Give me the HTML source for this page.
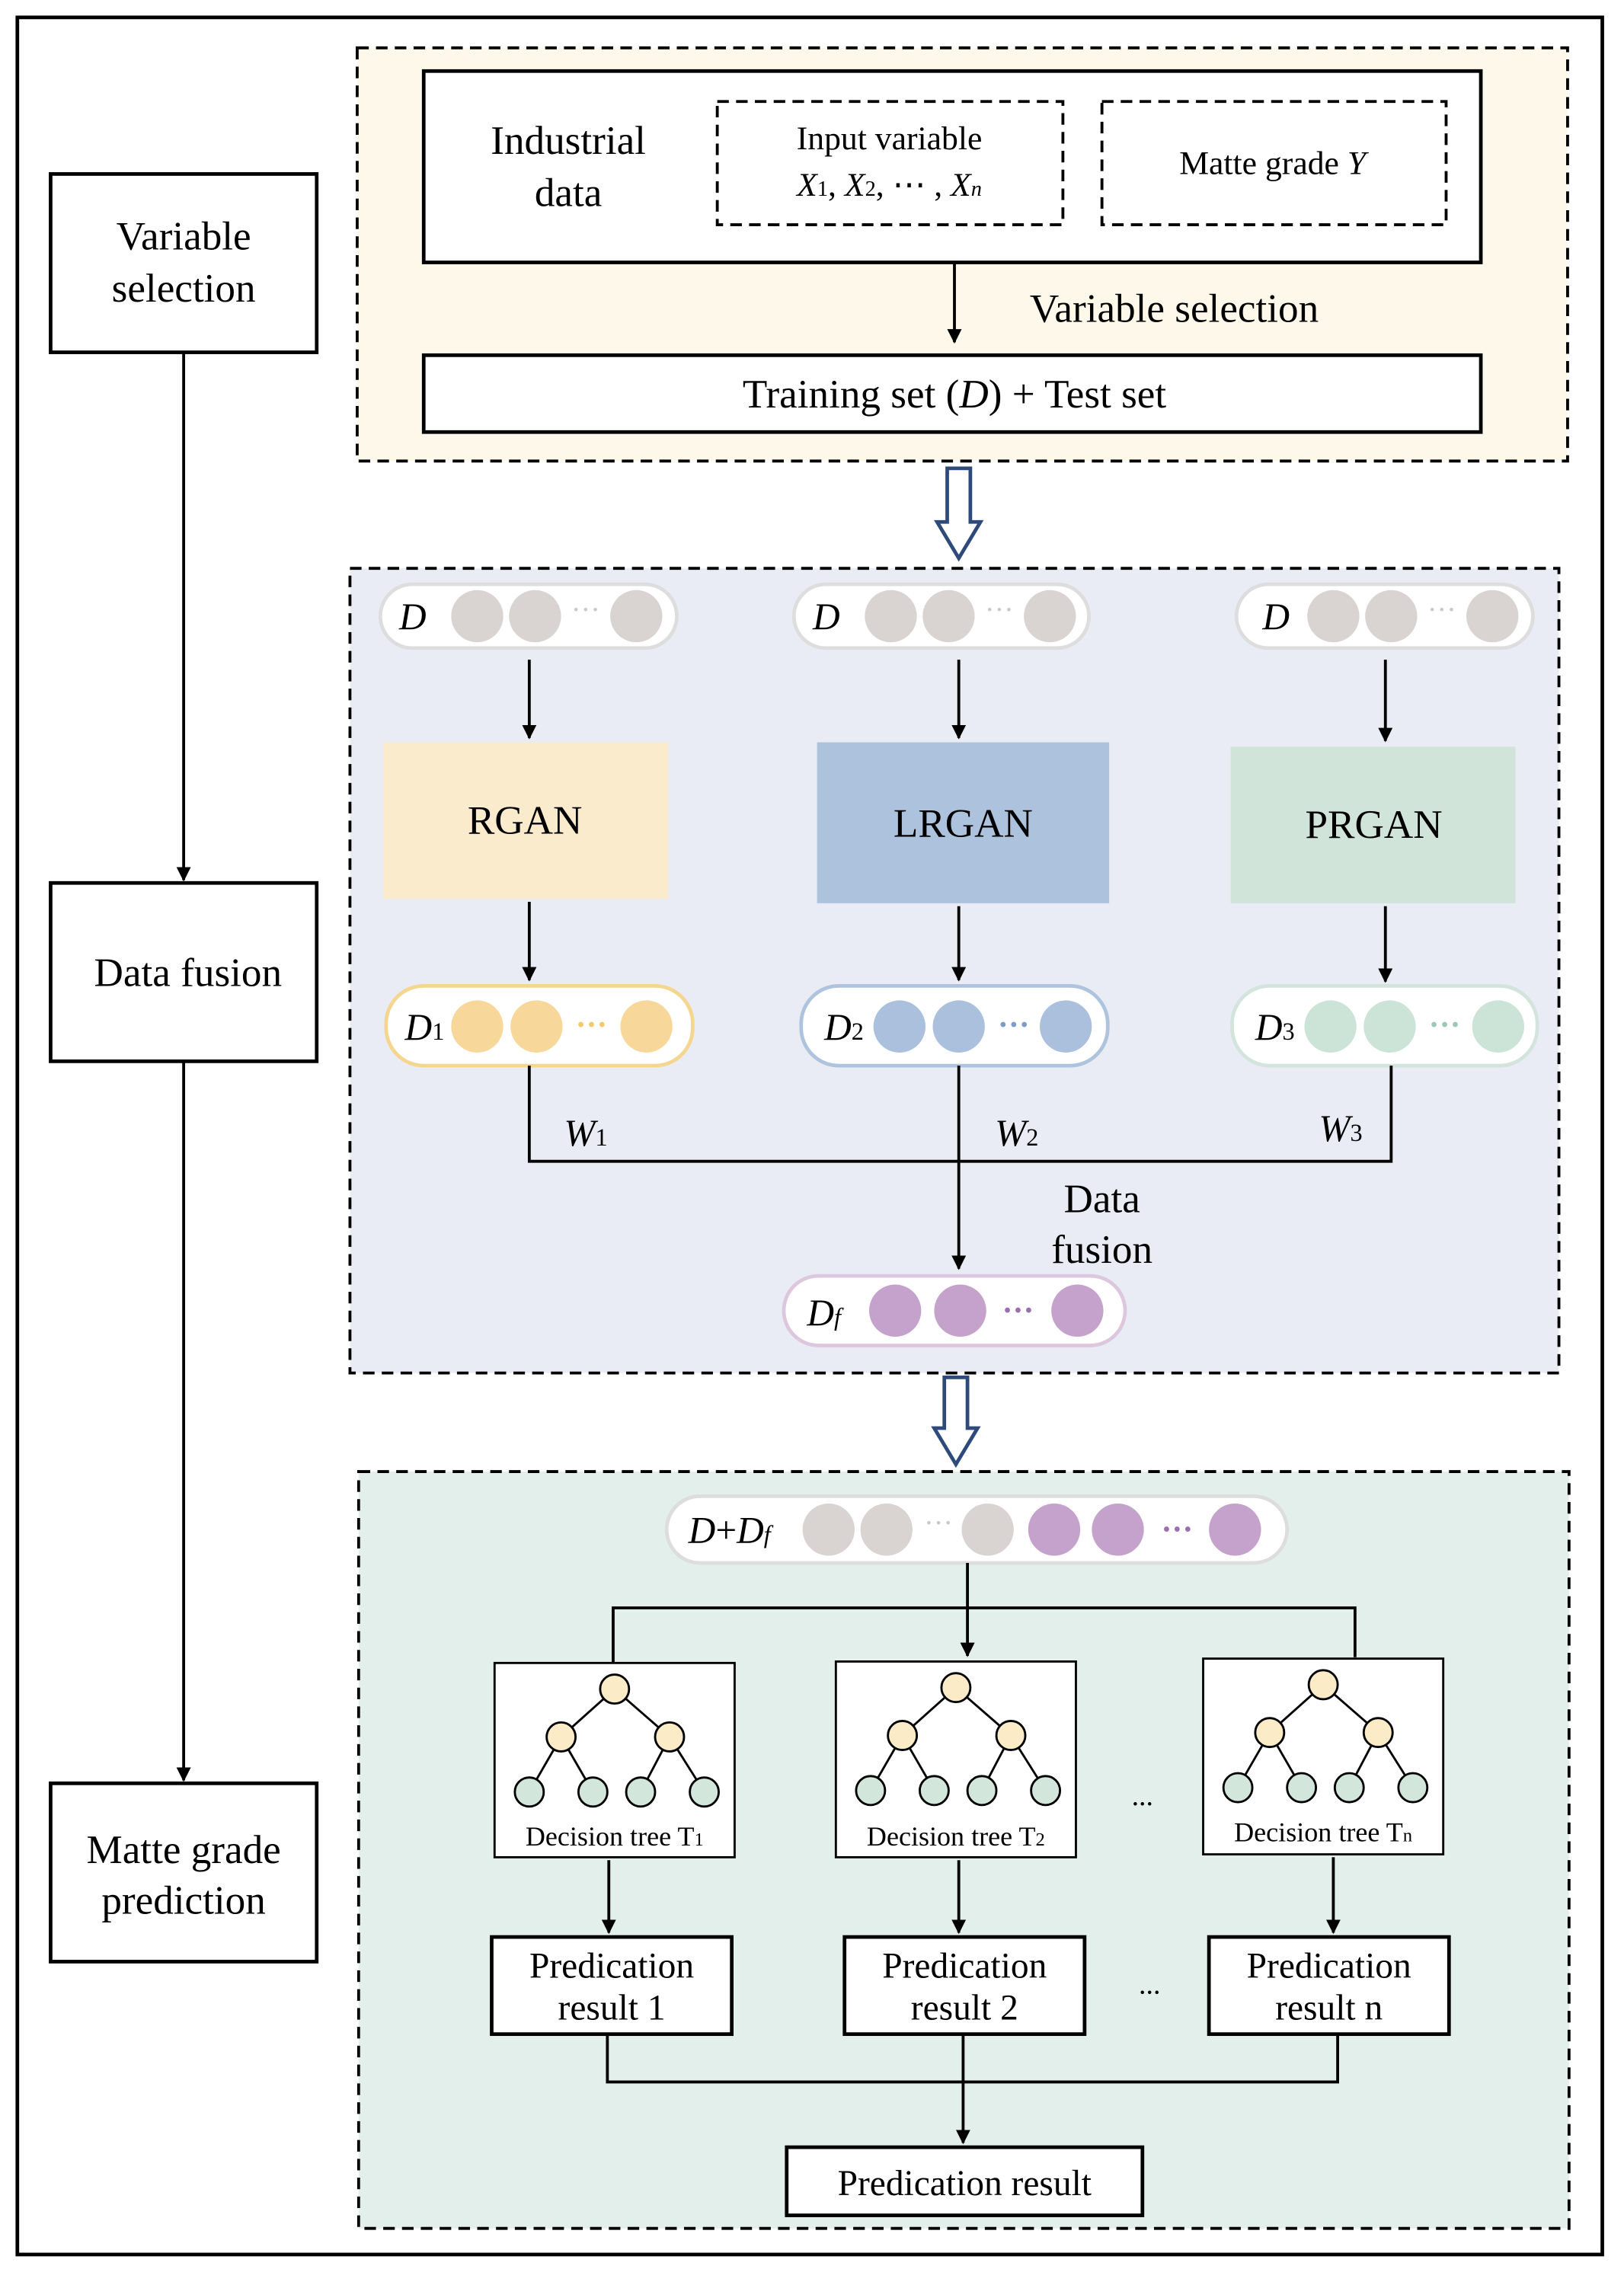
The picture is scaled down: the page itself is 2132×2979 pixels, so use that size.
<!DOCTYPE html>
<html><head><meta charset="utf-8"><style>
html,body{margin:0;padding:0;background:#fff}
svg{display:block}
text{font-family:"Liberation Serif",serif}
</style></head><body>
<svg width="2132" height="2979" viewBox="0 0 1123 1565" preserveAspectRatio="none" xmlns="http://www.w3.org/2000/svg">
<defs>
<marker id="a" markerWidth="10" markerHeight="10" refX="9" refY="5" orient="auto" markerUnits="userSpaceOnUse"><path d="M0,0 L10,5 L0,10 Z" fill="#000"/></marker>
</defs>
<rect width="1123" height="1565" fill="#fff"/>
<rect x="12" y="12" width="1096" height="1543" fill="none" stroke="#000" stroke-width="2.5"/>

<g fill="none" stroke="#000" stroke-width="2.5">
<rect x="35" y="120" width="184" height="123"/>
<rect x="35" y="609" width="184" height="123"/>
<rect x="35" y="1230" width="184" height="123"/>
</g>
<g stroke="#000" stroke-width="2">
<line x1="127" y1="243" x2="127" y2="607" marker-end="url(#a)"/>
<line x1="127" y1="732" x2="127" y2="1228" marker-end="url(#a)"/>
</g>
<g font-size="28" text-anchor="middle">
<text x="127" y="172">Variable</text><text x="127" y="208">selection</text>
<text x="130" y="680">Data fusion</text>
<text x="127" y="1285">Matte grade</text><text x="127" y="1320">prediction</text>
</g>

<rect x="247" y="33" width="837" height="285" fill="#fdf8ea" stroke="#000" stroke-width="2" stroke-dasharray="8,5"/>
<rect x="293" y="49" width="731" height="132" fill="#fff" stroke="#000" stroke-width="2.5"/>
<rect x="496" y="70" width="239" height="85" fill="none" stroke="#000" stroke-width="2" stroke-dasharray="8,5"/>
<rect x="762" y="70" width="238" height="85" fill="none" stroke="#000" stroke-width="2" stroke-dasharray="8,5"/>
<rect x="293" y="245" width="731" height="53" fill="#fff" stroke="#000" stroke-width="2.5"/>
<line x1="660" y1="181" x2="660" y2="236" stroke="#000" stroke-width="2" marker-end="url(#a)"/>
<g text-anchor="middle">
<text x="393" y="106" font-size="28">Industrial</text>
<text x="393" y="142" font-size="28">data</text>
<text x="615" y="103" font-size="23">Input variable</text>
<text x="615" y="135" font-size="23"><tspan font-style="italic">X</tspan><tspan font-size="15">1</tspan>, <tspan font-style="italic">X</tspan><tspan font-size="15">2</tspan>, ⋯ , <tspan font-style="italic">X</tspan><tspan font-size="15" font-style="italic">n</tspan></text>
<text x="880" y="120" font-size="23">Matte grade <tspan font-style="italic">Y</tspan></text>
<text x="812" y="222" font-size="28">Variable selection</text>
<text x="660" y="281" font-size="28">Training set (<tspan font-style="italic">D</tspan>) + Test set</text>
</g>

<path d="M655,323 H671 V360 H678 L663,385 L648,360 H655 Z" fill="#fff" stroke="#2d4a7a" stroke-width="2.5"/>
<path d="M653,950 H669 V985 H676 L661,1010 L646,985 H653 Z" fill="#fff" stroke="#2d4a7a" stroke-width="2.5"/>

<rect x="242" y="392" width="836" height="555" fill="#e9ecf4" stroke="#000" stroke-width="2" stroke-dasharray="8,5"/>
<g stroke="#ddd" stroke-width="2.5" fill="#fff">
<rect x="263" y="403" width="205" height="44" rx="22"/>
<rect x="549" y="403" width="204" height="44" rx="22"/>
<rect x="855" y="403" width="205" height="44" rx="22"/>
</g>
<g fill="#d9d4d2">
<circle cx="330" cy="425" r="18"/><circle cx="370" cy="425" r="18"/><circle cx="440" cy="425" r="18"/>
<circle cx="616" cy="425" r="18"/><circle cx="656" cy="425" r="18"/><circle cx="726" cy="425" r="18"/>
<circle cx="922" cy="425" r="18"/><circle cx="962" cy="425" r="18"/><circle cx="1032" cy="425" r="18"/>
</g>
<g font-size="26" font-style="italic">
<text x="276" y="434">D</text><text x="562" y="434">D</text><text x="873" y="434">D</text>
</g>
<g font-size="20" text-anchor="middle" style="fill:#c8c8c8"><text x="405" y="427">···</text><text x="691" y="427">···</text><text x="997" y="427">···</text></g>
<g stroke="#000" stroke-width="2">
<line x1="366" y1="455" x2="366" y2="509" marker-end="url(#a)"/>
<line x1="663" y1="455" x2="663" y2="509" marker-end="url(#a)"/>
<line x1="958" y1="455" x2="958" y2="511" marker-end="url(#a)"/>
</g>
<rect x="265" y="512" width="197" height="108" fill="#fbebcd"/>
<rect x="565" y="512" width="202" height="111" fill="#adc2dd"/>
<rect x="851" y="515" width="197" height="108" fill="#d0e4da"/>
<g font-size="28" text-anchor="middle">
<text x="363" y="575">RGAN</text><text x="666" y="577">LRGAN</text><text x="950" y="578">PRGAN</text>
</g>
<g stroke="#000" stroke-width="2">
<line x1="366" y1="622" x2="366" y2="676" marker-end="url(#a)"/>
<line x1="663" y1="625" x2="663" y2="676" marker-end="url(#a)"/>
<line x1="958" y1="625" x2="958" y2="677" marker-end="url(#a)"/>
</g>
<rect x="267" y="680" width="212" height="55" rx="26" fill="#fff" stroke="#f5d68f" stroke-width="2.5"/>
<rect x="554" y="680" width="212" height="55" rx="26" fill="#fff" stroke="#aec3dd" stroke-width="2.5"/>
<rect x="852" y="680" width="211" height="55" rx="26" fill="#fff" stroke="#d2e4dc" stroke-width="2.5"/>
<g fill="#f8d79a"><circle cx="330" cy="708" r="18"/><circle cx="371" cy="708" r="18"/><circle cx="447" cy="708" r="18"/></g>
<g fill="#aac0dc"><circle cx="622" cy="708" r="18"/><circle cx="663" cy="708" r="18"/><circle cx="737" cy="708" r="18"/></g>
<g fill="#cce3d8"><circle cx="920" cy="708" r="18"/><circle cx="961" cy="708" r="18"/><circle cx="1036" cy="708" r="18"/></g>
<g font-size="26"><text x="280" y="717"><tspan font-style="italic">D</tspan><tspan font-size="17">1</tspan></text>
<text x="570" y="717"><tspan font-style="italic">D</tspan><tspan font-size="17">2</tspan></text>
<text x="868" y="717"><tspan font-style="italic">D</tspan><tspan font-size="17">3</tspan></text></g>
<g font-size="22" font-weight="bold" text-anchor="middle"><text x="409" y="714" style="fill:#f5c86a">···</text><text x="701" y="714" style="fill:#7f9cc6">···</text><text x="999" y="714" style="fill:#9dc8b4">···</text></g>
<g stroke="#000" stroke-width="2" fill="none">
<polyline points="366,735 366,801 962,801 962,735"/>
<line x1="663" y1="735" x2="663" y2="875" marker-end="url(#a)"/>
</g>
<g font-size="26"><text x="390" y="790"><tspan font-style="italic">W</tspan><tspan font-size="17">1</tspan></text>
<text x="688" y="790"><tspan font-style="italic">W</tspan><tspan font-size="17">2</tspan></text>
<text x="912" y="787"><tspan font-style="italic">W</tspan><tspan font-size="17">3</tspan></text></g>
<g font-size="28" text-anchor="middle"><text x="762" y="836">Data</text><text x="762" y="871">fusion</text></g>
<rect x="542" y="880" width="236" height="48" rx="24" fill="#fff" stroke="#ddc7de" stroke-width="2.5"/>
<g fill="#c4a2cc"><circle cx="619" cy="904" r="18"/><circle cx="664" cy="904" r="18"/><circle cx="745" cy="904" r="18"/></g>
<text x="558" y="914" font-size="26"><tspan font-style="italic">D</tspan><tspan font-size="17" font-style="italic">f</tspan></text>
<text x="704" y="911" font-size="22" font-weight="bold" text-anchor="middle" style="fill:#9b6fae">···</text>

<rect x="248" y="1015" width="837" height="522" fill="#e3efeb" stroke="#000" stroke-width="2" stroke-dasharray="8,5"/>
<rect x="461" y="1032" width="429" height="46" rx="23" fill="#fff" stroke="#ddd" stroke-width="2.5"/>
<text x="476" y="1064" font-size="26"><tspan font-style="italic">D</tspan>+<tspan font-style="italic">D</tspan><tspan font-size="17" font-style="italic">f</tspan></text>
<g fill="#d9d4d2"><circle cx="573" cy="1055" r="18"/><circle cx="613" cy="1055" r="18"/><circle cx="683" cy="1055" r="18"/></g>
<g fill="#c4a2cc"><circle cx="729" cy="1055" r="18"/><circle cx="773" cy="1055" r="18"/><circle cx="854" cy="1055" r="18"/></g>
<text x="649" y="1057" font-size="20" text-anchor="middle" style="fill:#c8c8c8">···</text>
<text x="814" y="1062" font-size="22" font-weight="bold" text-anchor="middle" style="fill:#9b6fae">···</text>
<g stroke="#000" stroke-width="2" fill="none">
<line x1="669" y1="1078" x2="669" y2="1142" marker-end="url(#a)"/>
<polyline points="424,1147 424,1109 937,1109 937,1143"/>
</g>
<g stroke="#000" stroke-width="1.5" fill="#fff">
<rect x="342" y="1147" width="166" height="134"/>
<rect x="578" y="1146" width="166" height="135"/>
<rect x="832" y="1144" width="166" height="135"/>
</g>
<g id="tree" stroke="#000" stroke-width="1.5">
<line x1="425" y1="1165" x2="388" y2="1198"/><line x1="425" y1="1165" x2="463" y2="1198"/>
<line x1="388" y1="1198" x2="366" y2="1236"/><line x1="388" y1="1198" x2="410" y2="1236"/>
<line x1="463" y1="1198" x2="443" y2="1236"/><line x1="463" y1="1198" x2="487" y2="1236"/>
<circle cx="425" cy="1165" r="10" fill="#fbebc6"/>
<circle cx="388" cy="1198" r="10" fill="#fbebc6"/><circle cx="463" cy="1198" r="10" fill="#fbebc6"/>
<circle cx="366" cy="1236" r="10" fill="#d2e6dc"/><circle cx="410" cy="1236" r="10" fill="#d2e6dc"/>
<circle cx="443" cy="1236" r="10" fill="#d2e6dc"/><circle cx="487" cy="1236" r="10" fill="#d2e6dc"/>
</g>
<use href="#tree" x="236" y="-1"/>
<use href="#tree" x="490" y="-3"/>
<g font-size="19" text-anchor="middle">
<text x="425" y="1273">Decision tree T<tspan font-size="13">1</tspan></text>
<text x="661" y="1273">Decision tree T<tspan font-size="13">2</tspan></text>
<text x="915" y="1270">Decision tree T<tspan font-size="13">n</tspan></text>
</g>
<text x="790" y="1245" font-size="20" text-anchor="middle">...</text>
<g stroke="#000" stroke-width="2">
<line x1="421" y1="1283" x2="421" y2="1333" marker-end="url(#a)"/>
<line x1="663" y1="1283" x2="663" y2="1333" marker-end="url(#a)"/>
<line x1="922" y1="1281" x2="922" y2="1333" marker-end="url(#a)"/>
</g>
<g fill="#fff" stroke="#000" stroke-width="2.5">
<rect x="340" y="1336" width="166" height="67"/>
<rect x="584" y="1336" width="166" height="67"/>
<rect x="836" y="1336" width="166" height="67"/>
</g>
<g font-size="25" text-anchor="middle">
<text x="423" y="1364">Predication</text><text x="423" y="1393">result 1</text>
<text x="667" y="1364">Predication</text><text x="667" y="1393">result 2</text>
<text x="919" y="1364">Predication</text><text x="919" y="1393">result n</text>
</g>
<text x="795" y="1375" font-size="20" text-anchor="middle">...</text>
<g stroke="#000" stroke-width="2" fill="none">
<polyline points="420,1403 420,1436 925,1436 925,1403"/>
<line x1="666" y1="1403" x2="666" y2="1478" marker-end="url(#a)"/>
</g>
<rect x="544" y="1481" width="246" height="47" fill="#fff" stroke="#000" stroke-width="2.5"/>
<text x="667" y="1514" font-size="25" text-anchor="middle">Predication result</text>
</svg>
</body></html>
